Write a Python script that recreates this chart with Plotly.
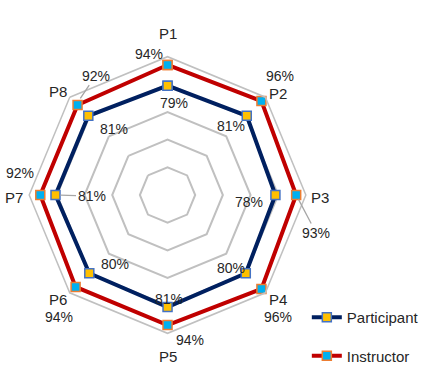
import math
import plotly.graph_objects as go

# Radar of eight performance criteria, participant vs instructor ratings
criteria = ["P1", "P2", "P3", "P4", "P5", "P6", "P7", "P8"]
participant = [0.79, 0.81, 0.78, 0.80, 0.81, 0.80, 0.81, 0.81]
instructor = [0.94, 0.96, 0.93, 0.96, 0.94, 0.94, 0.92, 0.92]

# Label placement: pixel offsets (dx, dy, leader line) from each marker / spoke end
participant_offsets = [(6, 20, False), (-16, 12, False), (-26, 7, False), (-15, -7, False),
                       (1, -11, False), (26, -11, False), (36, 1, True), (26, 15, False)]
instructor_offsets = [(-19, -8, False), (19, -23, False), (20, 38, True), (17, 26, False),
                      (22, 12, False), (-17, 28, False), (-20, -22, False), (18, -27, True)]
criteria_offsets = [(0, -19), (13, -1), (14, 2), (13, 4),
                    (0, 19), (-12, 4), (-15, 2), (-12, -3)]

FONT = "Liberation Sans, Arial, sans-serif"
TEXT_COLOR = "#262626"
GRID = "#C0C0C0"
LEADER = "#A6A6A6"

W, H = 424, 372
cx, cy, R = 172, 195, 142          # centre and radius of the radar, in pixels


def closed(seq):
    return list(seq) + [seq[0]]


def to_paper(value, idx):
    """Paper coordinates of a radar point (clockwise from the top)."""
    ang = math.radians(idx * 360 / len(criteria))
    px = cx + value * R * math.sin(ang)
    py = cy - value * R * math.cos(ang)
    return px / W, (H - py) / H


fig = go.Figure()

fig.add_trace(go.Scatterpolar(
    r=closed(participant),
    theta=closed(criteria),
    mode="lines+markers",
    name="Participant",
    legendgroup="a",
    line=dict(color="#002060", width=4),
    marker=dict(symbol="square", size=9, color="#FFC000",
                line=dict(color="#4472C4", width=1.5)),
))

fig.add_trace(go.Scatterpolar(
    r=closed(instructor),
    theta=closed(criteria),
    mode="lines+markers",
    name="Instructor",
    legendgroup="b",
    line=dict(color="#C00000", width=4),
    marker=dict(symbol="square", size=9, color="#00B0F0",
                line=dict(color="#ED7D31", width=1.5)),
))

annotations = []


def value_labels(values, offsets):
    for i, (v, (dx, dy, leader)) in enumerate(zip(values, offsets)):
        x, y = to_paper(v, i)
        ann = dict(x=x, y=y, xref="paper", yref="paper", text=f"{round(v * 100)}%",
                   xanchor="center", yanchor="middle",
                   font=dict(family=FONT, size=14, color=TEXT_COLOR))
        if leader:
            ann.update(showarrow=True, ax=dx, ay=dy, arrowhead=0, arrowwidth=1.3,
                       arrowcolor=LEADER, standoff=5)
        else:
            ann.update(showarrow=False, xshift=dx, yshift=-dy)
        annotations.append(ann)


value_labels(participant, participant_offsets)
value_labels(instructor, instructor_offsets)

for i, (name, (dx, dy)) in enumerate(zip(criteria, criteria_offsets)):
    x, y = to_paper(1.0, i)
    annotations.append(dict(x=x, y=y, xref="paper", yref="paper", text=name,
                            xanchor="center", yanchor="middle",
                            showarrow=False, xshift=dx, yshift=-dy,
                            font=dict(family=FONT, size=15, color=TEXT_COLOR)))

fig.update_layout(
    width=W,
    height=H,
    margin=dict(l=0, r=0, t=0, b=0),
    paper_bgcolor="white",
    plot_bgcolor="white",
    font=dict(family=FONT, size=15, color=TEXT_COLOR),
    polar=dict(
        domain=dict(x=[(cx - R) / W, (cx + R) / W],
                    y=[(H - cy - R) / H, (H - cy + R) / H]),
        bgcolor="white",
        gridshape="linear",
        radialaxis=dict(range=[0, 1], dtick=0.2, showticklabels=False,
                        ticks="", showline=False, gridcolor=GRID, gridwidth=1.5),
        angularaxis=dict(direction="clockwise", rotation=90, showgrid=False,
                         showticklabels=False, showline=True, linecolor=GRID,
                         linewidth=1.5, ticks=""),
    ),
    annotations=annotations,
    legend=dict(x=315 / W, y=0, xanchor="left", yanchor="bottom",
                tracegroupgap=16, bgcolor="rgba(0,0,0,0)",
                font=dict(family=FONT, size=15, color=TEXT_COLOR)),
    showlegend=True,
)

fig.write_html("out.html")
